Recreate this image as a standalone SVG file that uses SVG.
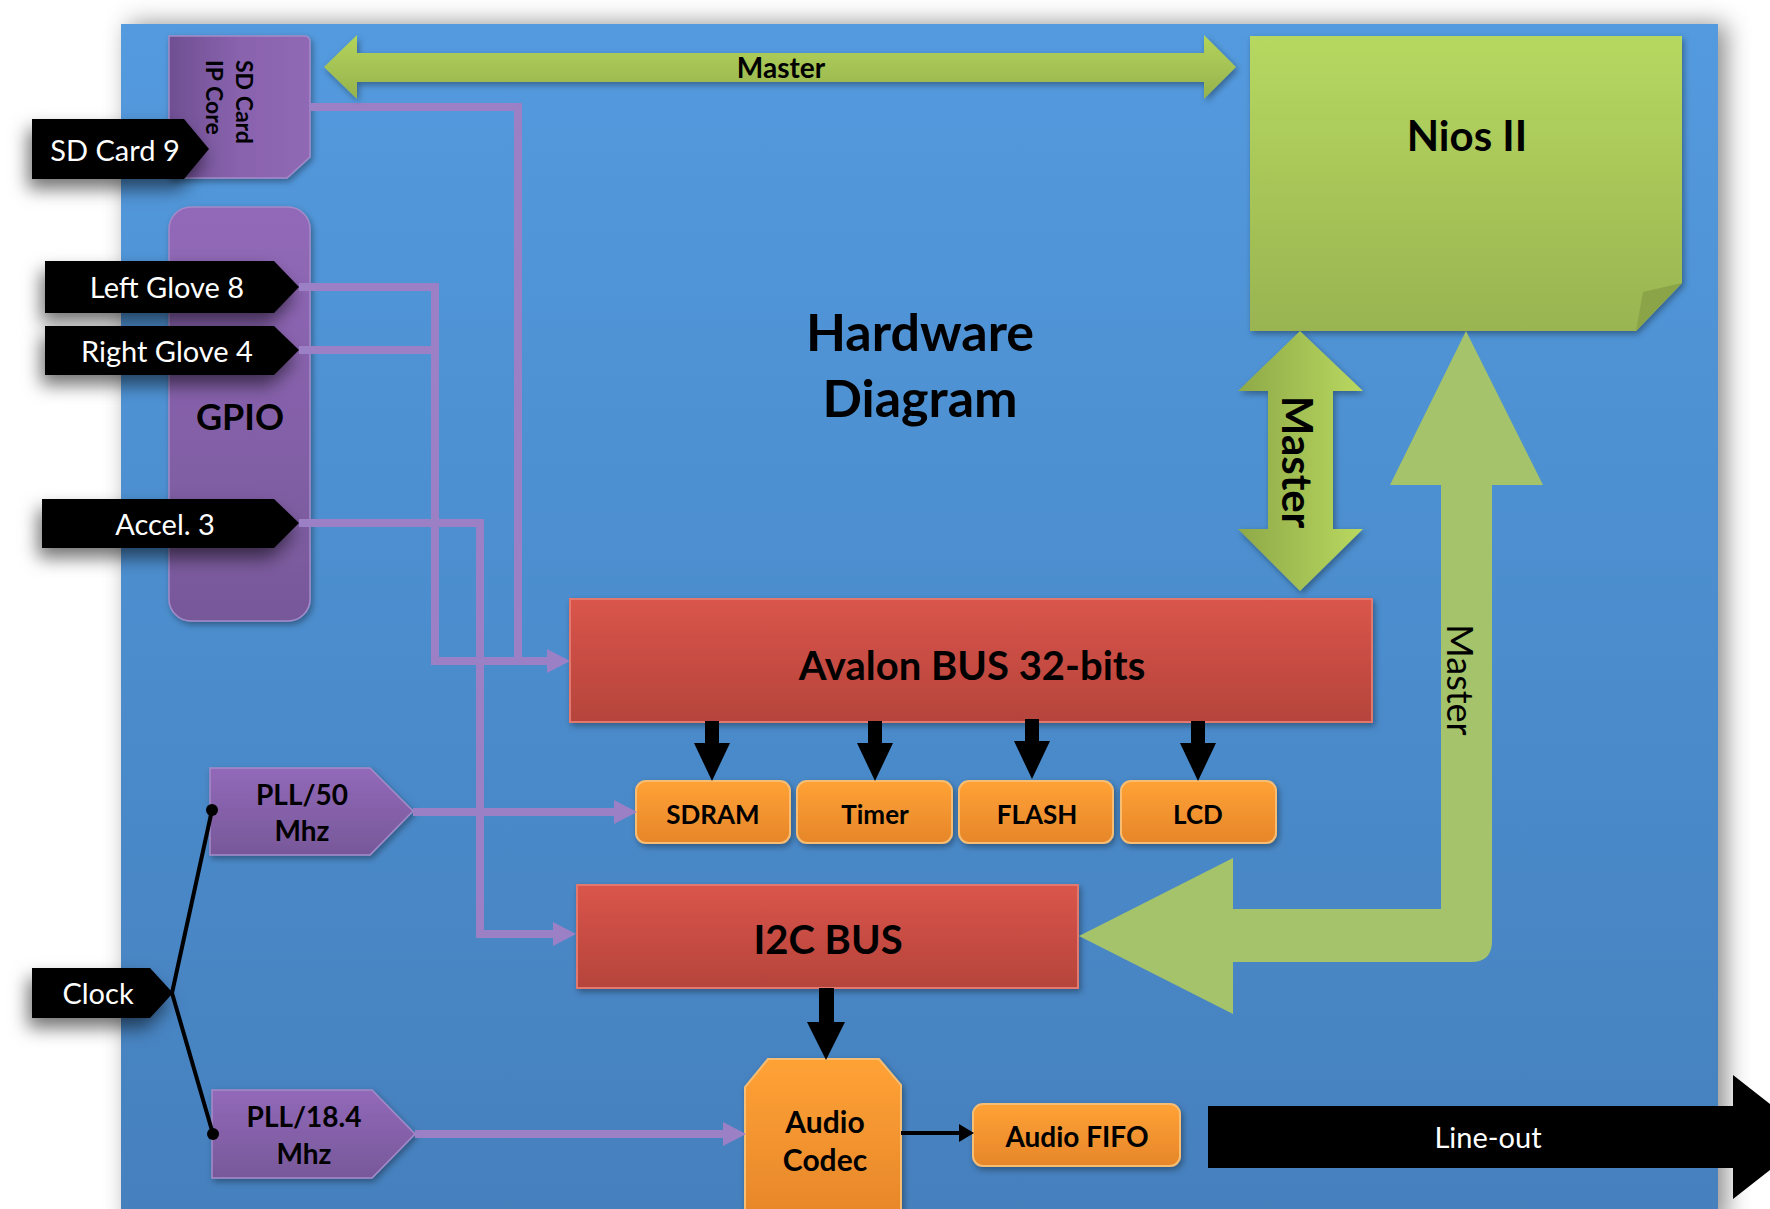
<svg xmlns="http://www.w3.org/2000/svg" width="1770" height="1209" viewBox="0 0 1770 1209">
<defs>
<linearGradient id="gBg" x1="0" y1="0" x2="0" y2="1"><stop offset="0" stop-color="#539ade"/><stop offset="1" stop-color="#4580bd"/></linearGradient>
<linearGradient id="gPurpleV" x1="0" y1="0" x2="0" y2="1"><stop offset="0" stop-color="#9269b9"/><stop offset="1" stop-color="#775899"/></linearGradient>
<linearGradient id="gPurpleH" x1="0" y1="0" x2="1" y2="0"><stop offset="0" stop-color="#6f4f92"/><stop offset="0.5" stop-color="#8963ae"/><stop offset="1" stop-color="#9068b5"/></linearGradient>
<linearGradient id="gRed" x1="0" y1="0" x2="0" y2="1"><stop offset="0" stop-color="#da554b"/><stop offset="1" stop-color="#b5443b"/></linearGradient>
<linearGradient id="gOrange" x1="0" y1="0" x2="0" y2="1"><stop offset="0" stop-color="#ffa235"/><stop offset="1" stop-color="#e6862a"/></linearGradient>
<linearGradient id="gNios" x1="0" y1="0" x2="0" y2="1"><stop offset="0" stop-color="#b6d860"/><stop offset="1" stop-color="#99b451"/></linearGradient>
<linearGradient id="gGreenV" x1="0" y1="0" x2="0" y2="1"><stop offset="0" stop-color="#b3d45b"/><stop offset="1" stop-color="#96b24d"/></linearGradient>
<linearGradient id="gGreenH" x1="0" y1="0" x2="1" y2="0"><stop offset="0" stop-color="#8ea948"/><stop offset="1" stop-color="#b9d85f"/></linearGradient>
<filter id="fBg" x="-5%" y="-5%" width="110%" height="110%"><feDropShadow dx="8" dy="0" stdDeviation="12" flood-color="#000" flood-opacity="0.45"/></filter>
<filter id="fBox" x="-10%" y="-10%" width="120%" height="130%"><feDropShadow dx="2" dy="3" stdDeviation="3" flood-color="#000" flood-opacity="0.35"/></filter>
<filter id="fTag" x="-20%" y="-30%" width="140%" height="190%"><feDropShadow dx="-4" dy="10" stdDeviation="9" flood-color="#000" flood-opacity="0.55"/></filter>
<marker id="mPurple" markerUnits="userSpaceOnUse" markerWidth="24" markerHeight="24" refX="0" refY="12" orient="auto"><path d="M0,0 L23,12 L0,24 Z" fill="#9b80c6"/></marker>
<marker id="mBlack" markerUnits="userSpaceOnUse" markerWidth="16" markerHeight="18" refX="0" refY="9" orient="auto"><path d="M0,0 L15,9 L0,18 Z" fill="#000"/></marker>
<path id="downArrow" d="M-7,0 H7 V22 H18 L0,60 L-18,22 H-7 Z" fill="#000"/>
<style>
.t{font-family:Lato,"Open Sans","Liberation Sans",sans-serif;fill:#000;}
.b{font-weight:700;}
.w{fill:#fff;font-weight:400;}
.m{text-anchor:middle;}
.plink{fill:none;stroke:#9b80c6;stroke-width:8;stroke-linejoin:miter;}
.tag{fill:#000;filter:url(#fTag);}
.orange{fill:url(#gOrange);stroke:#f7bd72;stroke-width:2;filter:url(#fBox);}
.red{fill:url(#gRed);stroke:#e3796e;stroke-width:2;filter:url(#fBox);}
.purpleV{fill:url(#gPurpleV);stroke:#a48ac8;stroke-width:1.5;filter:url(#fBox);}
</style>
</defs>

<rect x="0" y="0" width="1770" height="1209" fill="#fff"/>
<g id="background">
<rect x="121" y="24" width="1597" height="1200" fill="url(#gBg)" filter="url(#fBg)"/>
</g>

<g id="title">
<text class="t b m" x="920" y="351" font-size="52">Hardware</text>
<text class="t b m" x="920" y="417" font-size="52">Diagram</text>
</g>

<g id="sd-card-ip-core">
<path d="M169,36 H304 Q310,36 310,42 V157 L287,178 H169 Z" fill="url(#gPurpleH)" stroke="#a48ac8" stroke-width="1.5" filter="url(#fBox)"/>
<g transform="translate(236,60) rotate(90)"><text class="t b" x="0" y="0" font-size="23">SD Card</text><text class="t b" x="0" y="30" font-size="23">IP Core</text></g>
</g>

<g id="gpio">
<rect class="purpleV" x="169" y="207" width="141" height="414" rx="22"/>
<text class="t b m" x="240" y="430" font-size="36">GPIO</text>
</g>

<g id="nios-ii">
<path d="M1250,36 H1682 V283 L1636,331 H1250 Z" fill="url(#gNios)" filter="url(#fBox)"/>
<path d="M1682,283 L1636,331 L1643,292 Z" fill="#8aa447"/>
<text class="t b m" x="1467" y="151" font-size="42">Nios II</text>
</g>

<g id="tag-sd-card-9">
<path class="tag" d="M32,119 H184 L209,149 L184,179 H32 Z"/>
<text class="t w m" x="115" y="161" font-size="29">SD Card 9</text>
</g>
<g id="tag-left-glove-8">
<path class="tag" d="M45,261 H274 L299,287 L274,313 H45 Z"/>
<text class="t w m" x="167" y="298" font-size="29">Left Glove 8</text>
</g>
<g id="tag-right-glove-4">
<path class="tag" d="M45,326 H274 L299,350 L274,375 H45 Z"/>
<text class="t w m" x="167" y="362" font-size="29">Right Glove 4</text>
</g>
<g id="tag-accel-3">
<path class="tag" d="M42,499 H274 L299,523 L274,548 H42 Z"/>
<text class="t w m" x="165" y="535" font-size="29">Accel. 3</text>
</g>
<g id="tag-clock">
<path class="tag" d="M32,968 H150 L173,993 L150,1018 H32 Z"/>
<text class="t w m" x="98" y="1004" font-size="29">Clock</text>
</g>

<g id="pll-50">
<path class="purpleV" d="M210,768 H370 L413,811 L370,855 H210 Z"/>
<text class="t b m" x="302" y="805" font-size="28">PLL/50</text>
<text class="t b m" x="302" y="841" font-size="28">Mhz</text>
</g>
<g id="pll-18-4">
<path class="purpleV" d="M212,1090 H372 L415,1134 L372,1178 H212 Z"/>
<text class="t b m" x="304" y="1127" font-size="28">PLL/18.4</text>
<text class="t b m" x="304" y="1164" font-size="28">Mhz</text>
</g>

<g id="avalon-bus">
<rect class="red" x="570" y="599" width="802" height="123"/>
<text class="t b m" x="972" y="680" font-size="40">Avalon BUS 32-bits</text>
</g>

<g id="sdram"><rect class="orange" x="636" y="781" width="154" height="62" rx="10"/><text class="t b m" x="713" y="824" font-size="26">SDRAM</text></g>
<g id="timer"><rect class="orange" x="797" y="781" width="155" height="62" rx="10"/><text class="t b m" x="875" y="824" font-size="26">Timer</text></g>
<g id="flash"><rect class="orange" x="959" y="781" width="154" height="62" rx="10"/><text class="t b m" x="1037" y="824" font-size="26">FLASH</text></g>
<g id="lcd"><rect class="orange" x="1121" y="781" width="155" height="62" rx="10"/><text class="t b m" x="1198" y="824" font-size="26">LCD</text></g>

<g id="i2c-bus">
<rect class="red" x="577" y="885" width="501" height="103"/>
<text class="t b m" x="828" y="954" font-size="40">I2C BUS</text>
</g>

<g id="audio-codec">
<path class="orange" d="M768,1059 H879 L901,1085 V1220 H745 V1087 Z"/>
<text class="t b m" x="825" y="1133" font-size="30">Audio</text>
<text class="t b m" x="825" y="1171" font-size="30">Codec</text>
</g>

<g id="audio-fifo">
<rect class="orange" x="973" y="1104" width="207" height="62" rx="10"/>
<text class="t b m" x="1077" y="1147" font-size="28">Audio FIFO</text>
</g>

<g id="line-out">
<path d="M1208,1106 H1733 V1075 L1812,1137 L1733,1199 V1168 H1208 Z" fill="#000"/>
<text class="t w m" x="1488" y="1148" font-size="29">Line-out</text>
</g>

<g id="connectors">
<!-- purple slave buses -->
<polyline class="plink" points="310,107 518,107 518,661"/>
<polyline class="plink" points="299,287 435,287 435,661 547,661" marker-end="url(#mPurple)"/>
<polyline class="plink" points="299,350 435,350"/>
<polyline class="plink" points="299,523 480,523 480,934 553,934" marker-end="url(#mPurple)"/>
<polyline class="plink" points="413,812 614,812" marker-end="url(#mPurple)"/>
<polyline class="plink" points="415,1134 723,1134" marker-end="url(#mPurple)"/>
<!-- clock -->
<polyline points="212,810 172,993 213,1134" fill="none" stroke="#000" stroke-width="4"/>
<circle cx="212" cy="810" r="6" fill="#000"/>
<circle cx="213" cy="1134" r="6" fill="#000"/>
<!-- black arrows from Avalon -->
<use href="#downArrow" transform="translate(712,721)"/>
<use href="#downArrow" transform="translate(875,721)"/>
<use href="#downArrow" transform="translate(1032,719)"/>
<use href="#downArrow" transform="translate(1198,721)"/>
<!-- I2C to codec -->
<path d="M819,988 H834 V1022 H845 L826,1060 L807,1022 H819 Z" fill="#000"/>
<!-- codec to fifo -->
<line x1="901" y1="1133" x2="959" y2="1133" stroke="#000" stroke-width="4" marker-end="url(#mBlack)"/>
<!-- top master -->
<path d="M324,67 L357,35 V53 H1204 V35 L1236,67 L1204,99 V82 H357 V99 Z" fill="url(#gGreenV)" filter="url(#fBox)"/>
<text class="t b m" x="781" y="78" font-size="28">Master</text>
<!-- vertical master double arrow -->
<path d="M1300,331 L1363,391 H1333 V529 H1363 L1300,591 L1238,529 H1268 V391 H1238 Z" fill="url(#gGreenH)" filter="url(#fBox)"/>
<text class="t b m" transform="translate(1282,462) rotate(90)" x="0" y="0" font-size="42">Master</text>
<!-- L-shaped master arrow -->
<path d="M1466,331 L1543,485 H1492 V941 Q1492,962 1471,962 H1233 V1014 L1079,936 L1233,858 V909 H1441 V485 H1390 Z" fill="#a5c36a"/>
<text class="t m" transform="translate(1447,680) rotate(90)" x="0" y="0" font-size="36">Master</text>
</g>
</svg>
